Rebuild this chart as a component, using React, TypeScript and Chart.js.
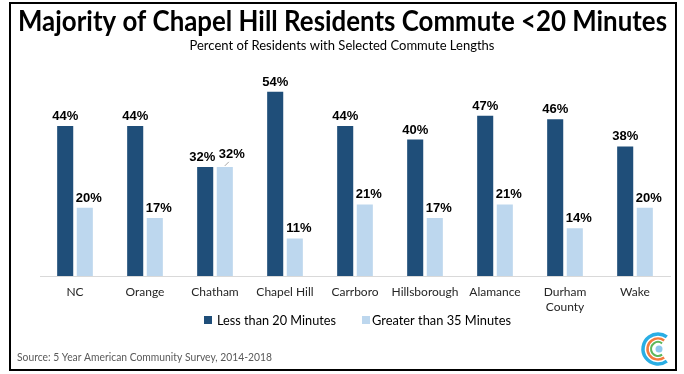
import React, { useEffect, useRef } from "react";
import { Chart, registerables } from "chart.js";

Chart.register(...registerables);

const TITLE = "Majority of Chapel Hill Residents Commute <20 Minutes";
const SUBTITLE = "Percent of Residents with Selected Commute Lengths";
const SOURCE = "Source: 5 Year American Community Survey, 2014-2018";

const categories: (string | string[])[] = [
  "NC",
  "Orange",
  "Chatham",
  "Chapel Hill",
  "Carrboro",
  "Hillsborough",
  "Alamance",
  ["Durham", "County"],
  "Wake",
];
const seriesNames = ["Less than 20 Minutes", "Greater than 35 Minutes"];
const lessThan20 = [44, 44, 32, 54, 44, 40, 47, 46, 38];
const greaterThan35 = [20, 17, 32, 11, 21, 17, 21, 14, 20];

const DARK = "#1f4e79";
const LIGHT = "#bdd7ee";
const FONT = "Lato, 'Open Sans', sans-serif";

function fitText(ctx: CanvasRenderingContext2D, text: string, x: number, y: number, width: number) {
  // draws text starting at x with a horizontal squeeze so its width equals `width`
  const w = ctx.measureText(text).width;
  const sx = width / w;
  ctx.save();
  ctx.translate(x, y);
  ctx.scale(sx, 1);
  ctx.textAlign = "left";
  ctx.fillText(text, 0, 0);
  ctx.restore();
}

export default function App() {
  const ref = useRef<HTMLCanvasElement>(null);

  useEffect(() => {
    document.body.style.margin = "0";
    const canvas = ref.current!;

    const decor = {
      id: "decor",
      beforeDraw(chart: any) {
        const ctx = chart.ctx;
        ctx.save();
        ctx.fillStyle = "#ffffff";
        ctx.fillRect(0, 0, chart.width, chart.height);
        ctx.restore();
      },
      afterDatasetsDraw(chart: any) {
        const ctx = chart.ctx;
        ctx.save();
        ctx.font = "bold 13px 'Liberation Sans', Arial, sans-serif";
        ctx.fillStyle = "#000000";
        ctx.textAlign = "center";
        ctx.textBaseline = "alphabetic";
        const m0 = chart.getDatasetMeta(0);
        const m1 = chart.getDatasetMeta(1);
        chart.data.labels.forEach((_: any, i: number) => {
          const b0 = m0.data[i];
          const b1 = m1.data[i];
          const crowded = Math.abs(b0.y - b1.y) < 12;
          const off0 = crowded ? -3 : 0;
          const off1 = crowded ? 7 : 4;
          const lift1 = crowded ? 9 : 6;
          ctx.fillText(chart.data.datasets[0].data[i] + "%", b0.x + off0, b0.y - 6);
          ctx.fillText(chart.data.datasets[1].data[i] + "%", b1.x + off1, b1.y - lift1);
          if (crowded) {
            ctx.beginPath();
            ctx.strokeStyle = "#a6a6a6";
            ctx.lineWidth = 1;
            ctx.moveTo(b1.x, b1.y - 1);
            ctx.lineTo(b1.x + 4, b1.y - 5);
            ctx.stroke();
          }
        });
        ctx.restore();
      },
      afterDraw(chart: any) {
        const ctx = chart.ctx;
        ctx.save();
        ctx.fillStyle = "#000000";
        ctx.textBaseline = "alphabetic";
        // title
        ctx.font = "bold 28px " + FONT;
        fitText(ctx, TITLE, 18, 31, 649);
        // subtitle
        ctx.font = "13px " + FONT;
        ctx.textAlign = "center";
        ctx.fillText(SUBTITLE, 342, 50);

        // legend
        ctx.font = "14px " + FONT;
        ctx.fillStyle = DARK;
        ctx.fillRect(204, 316, 8, 8);
        ctx.fillStyle = "#000000";
        fitText(ctx, seriesNames[0], 217, 325, 119);
        ctx.fillStyle = LIGHT;
        ctx.fillRect(362, 316, 8, 8);
        ctx.fillStyle = "#000000";
        fitText(ctx, seriesNames[1], 372, 325, 139);

        // source
        ctx.font = "11px " + FONT;
        ctx.fillStyle = "#595959";
        fitText(ctx, SOURCE, 17, 361, 255);

        // logo
        const cx = 658, cy = 349;
        const arcs = [
          { r: 15, c: "#2aaee4", w: 3.5 },
          { r: 10.5, c: "#f37a3d", w: 2.5 },
          { r: 7, c: "#5db75b", w: 2 },
        ];
        arcs.forEach((a) => {
          ctx.beginPath();
          ctx.strokeStyle = a.c;
          ctx.lineWidth = a.w;
          ctx.arc(cx, cy, a.r, 0.3 * Math.PI, 1.7 * Math.PI);
          ctx.stroke();
        });
        ctx.beginPath();
        ctx.fillStyle = "#8cc8ee";
        ctx.arc(cx + 1, cy, 3.5, 0, 2 * Math.PI);
        ctx.fill();

        // frame
        ctx.strokeStyle = "#000000";
        ctx.lineWidth = 2;
        ctx.strokeRect(10, 3, 666, 367);
        ctx.restore();
      },
    };

    const chart = new Chart(canvas, {
      type: "bar",
      data: {
        labels: categories,
        datasets: [
          {
            label: seriesNames[0],
            data: lessThan20,
            backgroundColor: DARK,
            barPercentage: 0.82,
            categoryPercentage: 0.56,
          },
          {
            label: seriesNames[1],
            data: greaterThan35,
            backgroundColor: LIGHT,
            barPercentage: 0.82,
            categoryPercentage: 0.56,
          },
        ],
      },
      options: {
        responsive: false,
        animation: false,
        devicePixelRatio: 1,
        layout: { padding: { left: 40, right: 14, top: 71.4, bottom: 58 } },
        plugins: {
          legend: { display: false },
          title: { display: false },
          tooltip: { enabled: false },
        },
        scales: {
          x: {
            grid: { display: false, drawTicks: false },
            border: { display: true, color: "#d9d9d9", width: 1 },
            ticks: {
              padding: 9,
              color: "#262626",
              font: { family: FONT, size: 12, lineHeight: 1.25 },
              maxRotation: 0,
              autoSkip: false,
            },
            afterFit: (s: any) => {
              s.height = 40;
            },
          },
          y: {
            display: false,
            min: 0,
            max: 60,
          },
        },
      },
      plugins: [decor],
    });

    return () => chart.destroy();
  }, []);

  return (
    <div style={{ width: 684, height: 374 }}>
      <canvas ref={ref} width={684} height={374} style={{ display: "block" }} />
    </div>
  );
}
